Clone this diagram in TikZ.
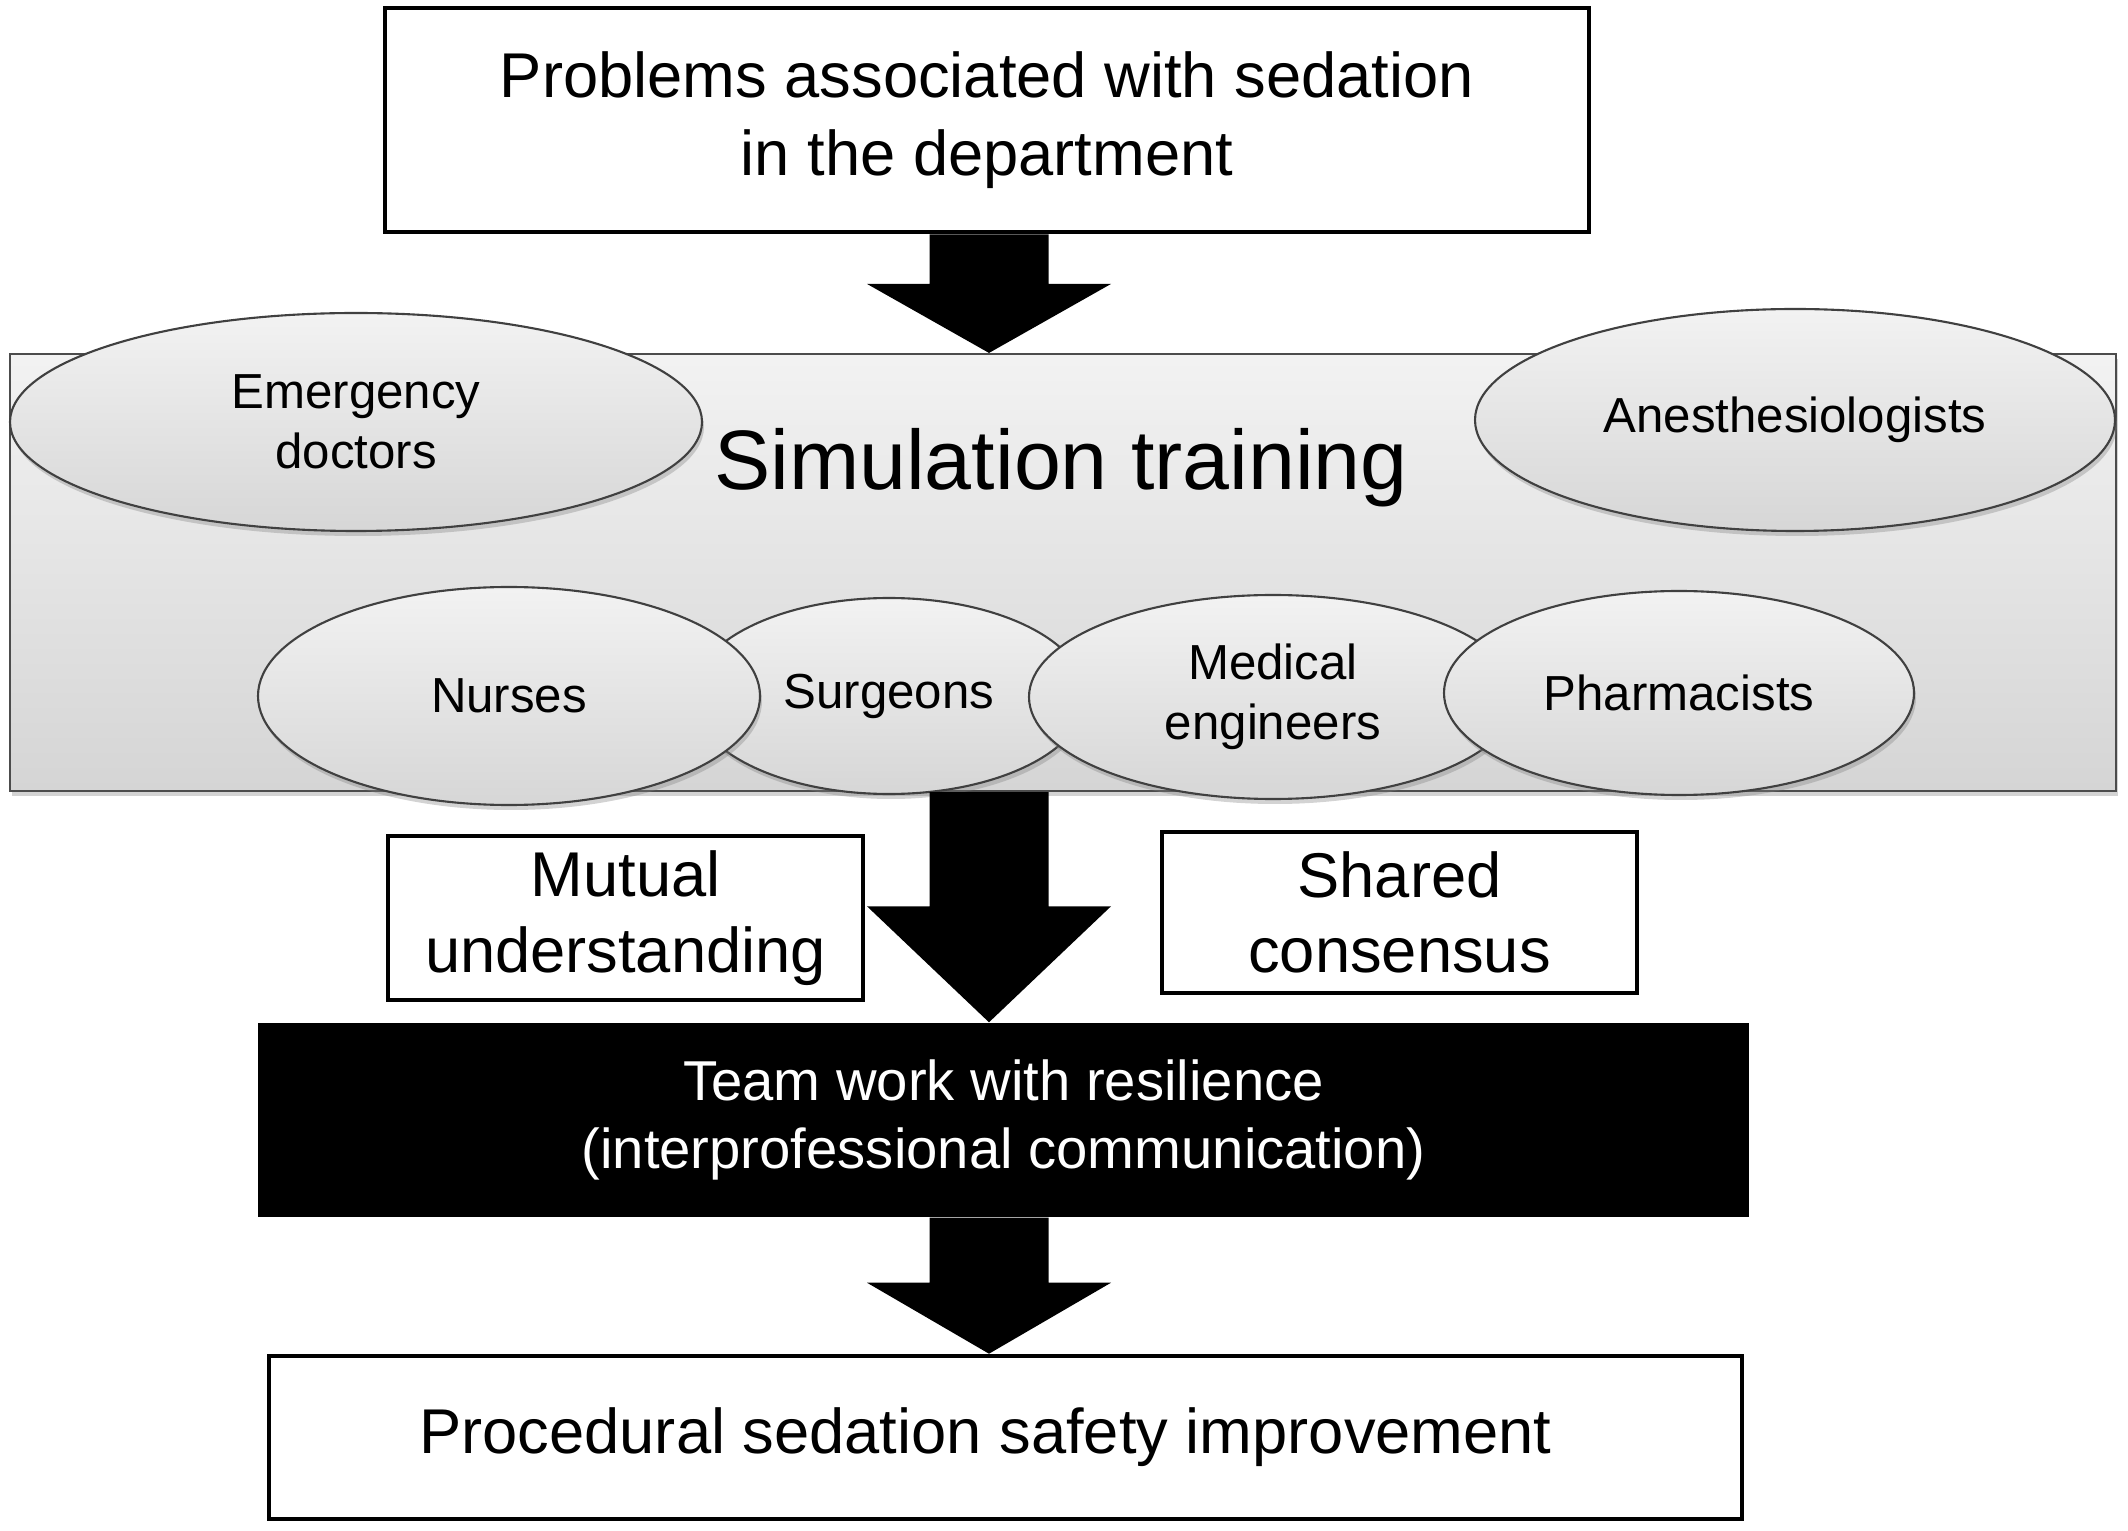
\documentclass[tikz,border=0pt]{standalone}
\usepackage{fontspec}
\setmainfont{Liberation Sans}
\usetikzlibrary{shapes.geometric}
\usetikzlibrary{calc}
\usetikzlibrary{shadows}
\tikzset{textbox/.style={shape=rectangle, draw=black, line width=1.3pt, fill=white, align=center, inner sep=0pt, font=\fontsize{18}{22}\selectfont}}
\tikzset{group/.style={shape=ellipse, draw=black!75, line width=0.6pt, top color=gray!10, bottom color=gray!32, drop shadow={shadow xshift=0.02cm, shadow yshift=-0.05cm, opacity=0.35}, align=center, inner sep=0pt, font=\fontsize{14}{17}\selectfont}}
\newcommand{\fatarrow}[3]{\fill[black] let \p1=(axis |- #1.south), \p2=(axis |- #2.north) in (\x1-0.595cm,\y1) -- (\x1+0.595cm,\y1) -- (\x1+0.595cm,\y2+#3) -- (\x1+1.22cm,\y2+#3) -- (\x2,\y2) -- (\x1-1.22cm,\y2+#3) -- (\x1-0.595cm,\y2+#3) -- cycle;}

\begin{document}
\begin{tikzpicture}
		\useasboundingbox (0,0) rectangle (21.28,-15.31);
		\node[textbox, minimum width=12.04cm, minimum height=2.24cm] (P) at (9.87,-1.20) {Problems associated with sedation\\in the department};
		\coordinate (axis) at (9.89,-1.20);
		\node[shape=rectangle, draw=black!70, line width=0.6pt, top color=gray!10, bottom color=gray!33, drop shadow={shadow xshift=0.02cm, shadow yshift=-0.05cm, opacity=0.35}, minimum width=21.06cm, minimum height=4.37cm] (S) at (10.63,-5.725) {};
		\node[font=\fontsize{24}{28}\selectfont] (T) at (10.61,-4.68) {Simulation training};
		\node[group, minimum width=6.92cm, minimum height=2.18cm] (E) at (3.56,-4.22) {Emergency\\doctors};
		\node[group, minimum width=6.40cm, minimum height=2.22cm] (A) at (17.95,-4.20) {Anesthesiologists};
		\node[group, minimum width=3.94cm, minimum height=1.96cm] (G) at (8.89,-6.96) {Surgeons};
		\node[group, minimum width=5.02cm, minimum height=2.18cm] (N) at (5.09,-6.96) {Nurses};
		\node[group, minimum width=4.88cm, minimum height=2.04cm] (M) at (12.73,-6.97) {Medical\\engineers};
		\node[group, minimum width=4.70cm, minimum height=2.04cm] (H) at (16.79,-6.93) {Pharmacists};
		\node[textbox, minimum width=4.75cm, minimum height=1.64cm, font=\fontsize{18}{21.5}\selectfont] (U) at (6.255,-9.18) {Mutual\\understanding};
		\node[textbox, minimum width=4.75cm, minimum height=1.61cm, font=\fontsize{18}{21.5}\selectfont] (C) at (13.995,-9.125) {Shared\\consensus};
		\node[shape=rectangle, fill=black, text=white, align=center, inner sep=0pt, font=\fontsize{16}{19.5}\selectfont, minimum width=14.91cm, minimum height=1.94cm] (W) at (10.035,-11.20) {Team work with resilience\\(interprofessional communication)};
		\node[textbox, minimum width=14.73cm, minimum height=1.63cm] (R) at (10.055,-14.375) {Procedural sedation safety improvement\hspace*{0.4cm}};
		\fatarrow{P}{S}{0.69cm}
		\fatarrow{S}{W}{1.16cm}
		\fatarrow{W}{R}{0.71cm}
	\end{tikzpicture}
\end{document}
